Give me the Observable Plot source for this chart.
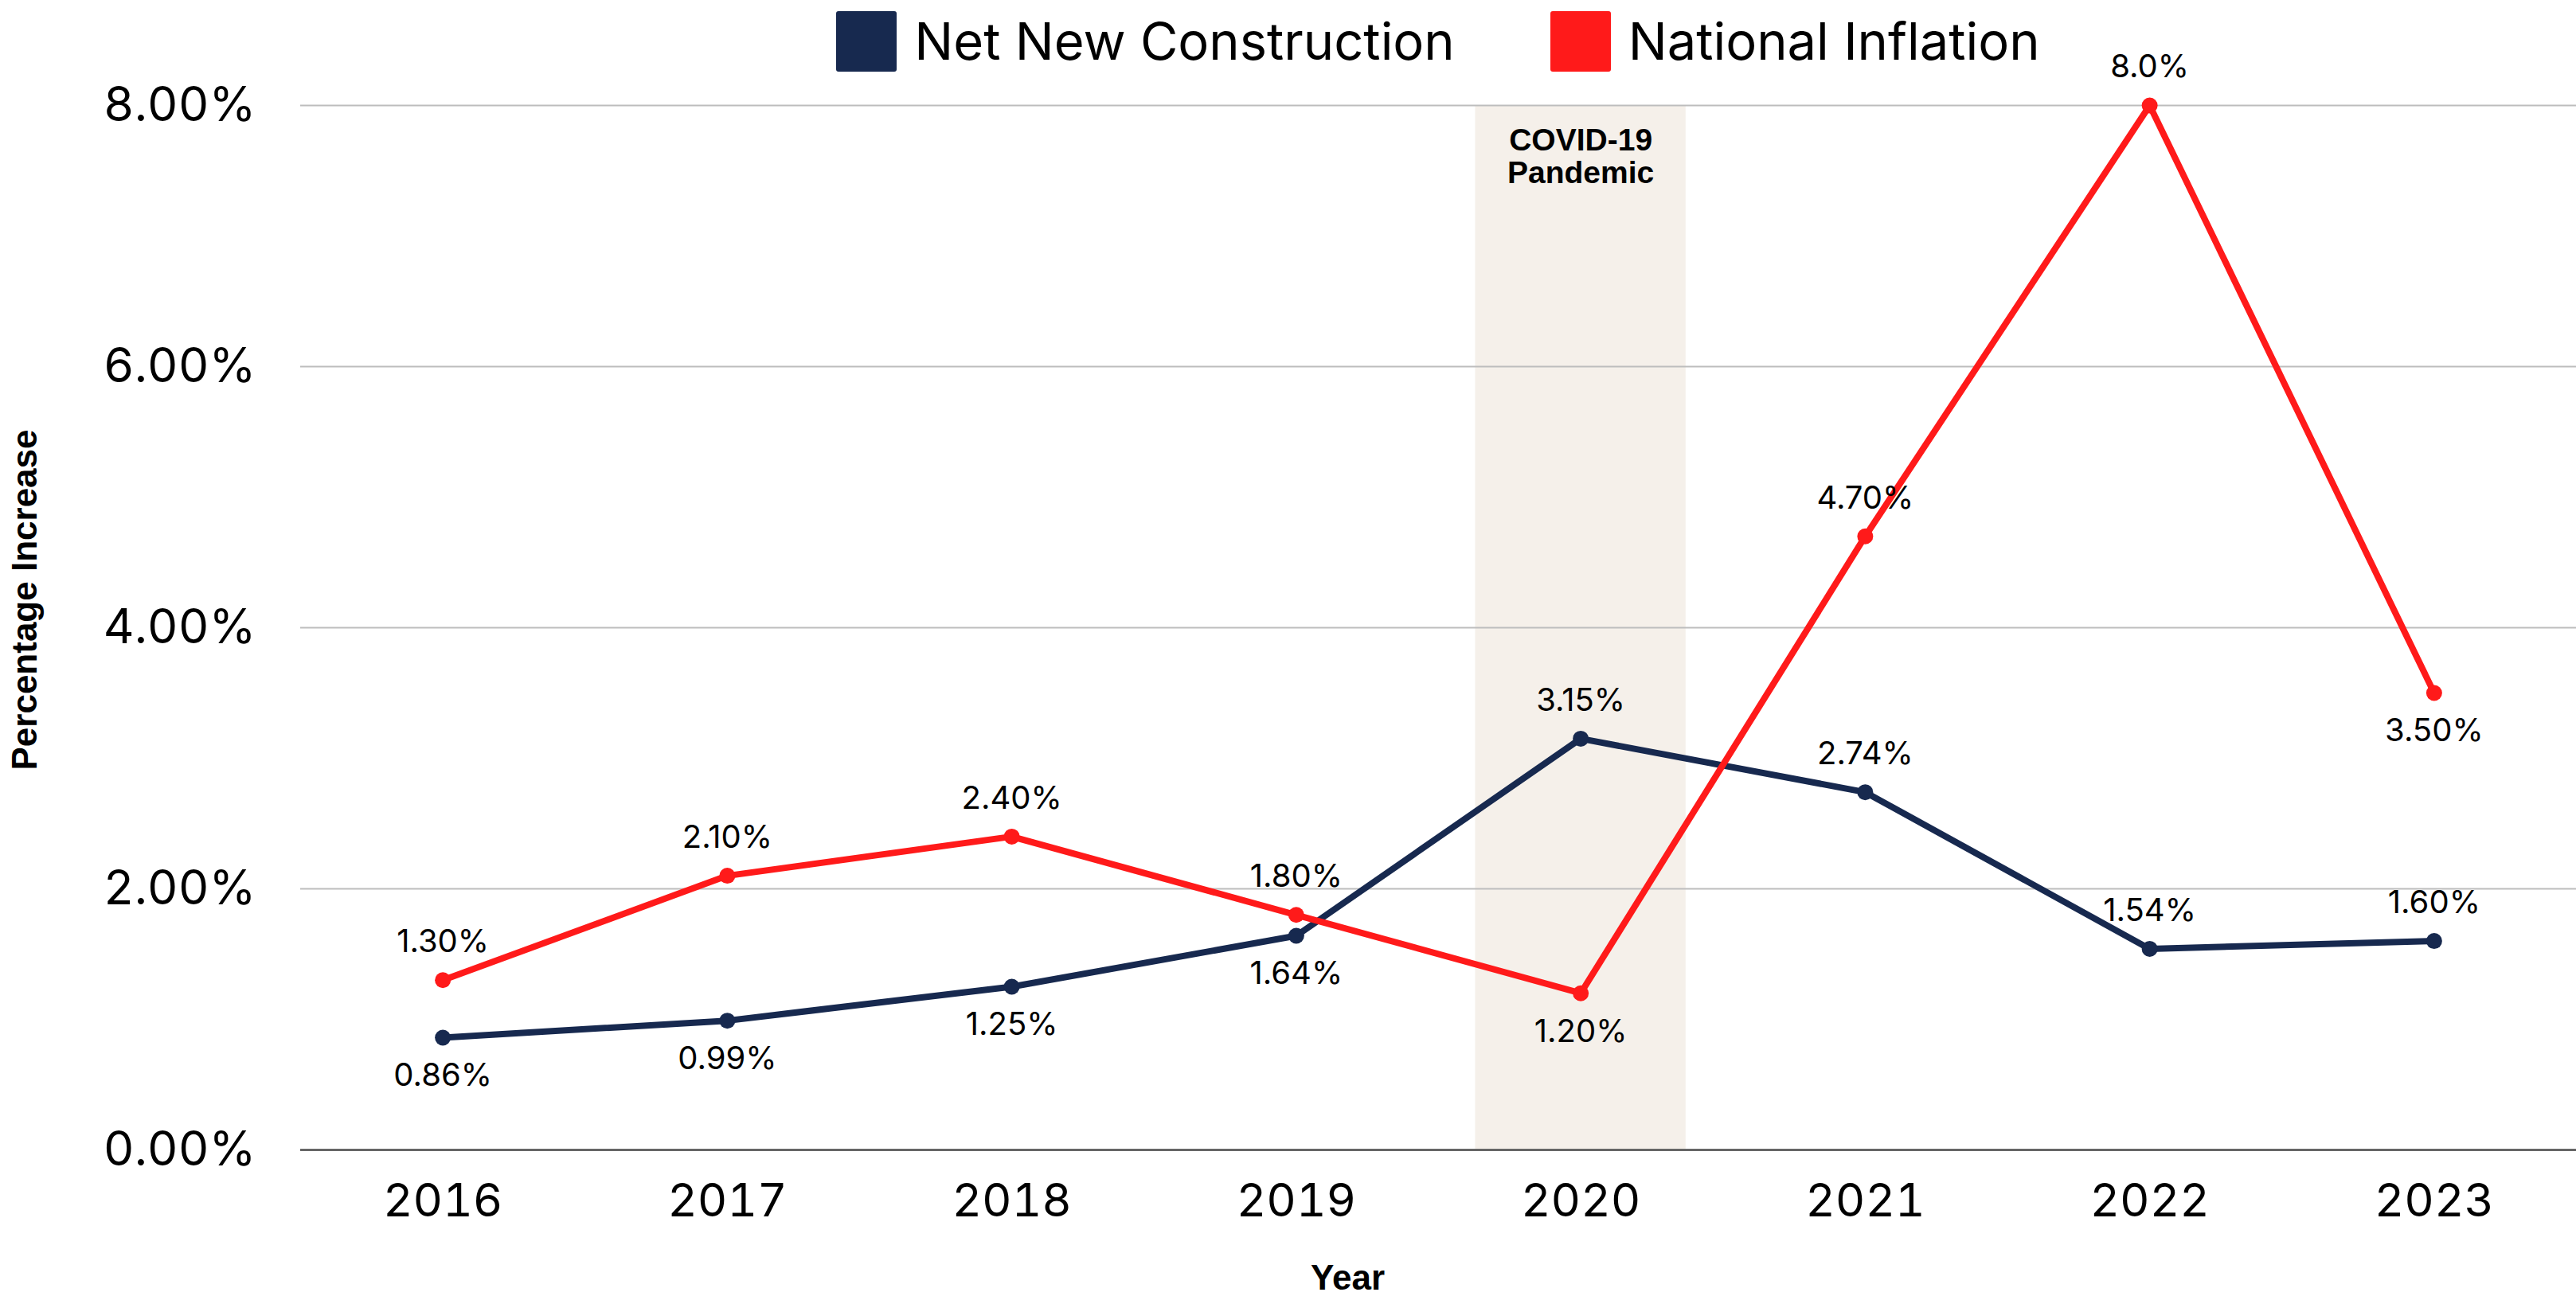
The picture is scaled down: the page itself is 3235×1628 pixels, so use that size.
<!DOCTYPE html>
<html>
<head>
<meta charset="utf-8">
<script src="https://cdn.jsdelivr.net/npm/d3@7"></script>
<script src="https://cdn.jsdelivr.net/npm/@observablehq/plot@0.6"></script>
<style>
  html, body { margin: 0; padding: 0; background: #fff; }
  body { width: 3235px; height: 1628px; overflow: hidden; font-family: Inter, "Noto Sans", sans-serif; }
  #legend { height: 100px; box-sizing: border-box; padding-left: 377px; display: flex; justify-content: center; align-items: flex-start; gap: 120px; }
  .item { display: flex; align-items: center; gap: 22px; margin-top: 14px; }
  .sw { width: 76px; height: 76px; border-radius: 3px; }
  .lab { font-size: 65px; color: #000; line-height: 76px; }
</style>
</head>
<body>
<div id="legend"></div>
<div id="chart"></div>
<script>
// ---- data ----
const years = [2016, 2017, 2018, 2019, 2020, 2021, 2022, 2023];
const netNewConstruction = [0.86, 0.99, 1.25, 1.64, 3.15, 2.74, 1.54, 1.60];
const nationalInflation = [1.30, 2.10, 2.40, 1.80, 1.20, 4.70, 8.0, 3.50];
const constructionLabels = ["0.86%", "0.99%", "1.25%", "1.64%", "3.15%", "2.74%", "1.54%", "1.60%"];
const inflationLabels = ["1.30%", "2.10%", "2.40%", "1.80%", "1.20%", "4.70%", "8.0%", "3.50%"];
const yTicks = [0, 2, 4, 6, 8];
const seriesNames = ["Net New Construction", "National Inflation"];
const covidSpan = {start: 2019.63, end: 2020.37, label: "COVID-19\nPandemic"};

// ---- styling ----
const colors = {"Net New Construction": "#17294f", "National Inflation": "#ff1a1a"};
const constructionSide = [1, 1, 1, 1, -1, -1, -1, -1];   // -1 above, 1 below
const inflationSide = [-1, -1, -1, -1, 1, -1, -1, 1];

const construction = years.map((year, i) => ({year, value: netNewConstruction[i], label: constructionLabels[i], side: constructionSide[i]}));
const inflation = years.map((year, i) => ({year, value: nationalInflation[i], label: inflationLabels[i], side: inflationSide[i]}));

// legend
const legend = document.getElementById("legend");
for (const name of seriesNames) {
  const it = document.createElement("div");
  it.className = "item";
  it.innerHTML = `<div class="sw" style="background:${colors[name]}"></div><div class="lab">${name}</div>`;
  legend.appendChild(it);
}

const labelOffset = 48;
const font = "Inter, 'Noto Sans', sans-serif";
const boldFont = "'Liberation Sans', Arial, sans-serif";

const chart = Plot.plot({
  width: 3235,
  height: 1528,
  marginLeft: 377,
  marginRight: 0,
  marginTop: 32,
  marginBottom: 184,
  style: {fontFamily: font, background: "white", overflow: "visible", color: "#000"},
  x: {domain: [2015.5, 2023.5], label: null},
  y: {domain: [0, 8], label: null},
  marks: [
    Plot.rect([covidSpan], {x1: "start", x2: "end", y1: 0, y2: 8, fill: "#f5f0ea"}),
    Plot.gridY(yTicks.filter(d => d > 0), {stroke: "#bdbdbd", strokeOpacity: 1, strokeWidth: 2}),
    Plot.ruleY([0], {stroke: "#666", strokeWidth: 3}),
    Plot.text([covidSpan], {x: 2020, y: 8, text: "label", dy: 64, lineAnchor: "middle", fontSize: 39, fontWeight: "bold", fontFamily: boldFont, lineHeight: 1.06, fill: "#000"}),
    Plot.axisX({ticks: years, tickFormat: d => String(d), tickSize: 0, tickPadding: 42, fontSize: 58, label: null}),
    Plot.axisY({ticks: yTicks, tickFormat: d => d.toFixed(2) + "%", tickSize: 0, tickPadding: 56, fontSize: 60, label: null}),
    Plot.text(["Year"], {frameAnchor: "bottom", dx: -114, dy: 161, textAnchor: "middle", lineAnchor: "middle", fontSize: 44, fontWeight: "bold", fontFamily: boldFont, fill: "#000"}),
    Plot.text(["Percentage Increase"], {frameAnchor: "left", dx: -346, dy: -35, rotate: -90, textAnchor: "middle", lineAnchor: "middle", fontSize: 44, fontWeight: "bold", fontFamily: boldFont, fill: "#000"}),
    Plot.line(construction, {x: "year", y: "value", stroke: colors[seriesNames[0]], strokeWidth: 8}),
    Plot.line(inflation, {x: "year", y: "value", stroke: colors[seriesNames[1]], strokeWidth: 8}),
    Plot.dot(construction, {x: "year", y: "value", r: 10, fill: colors[seriesNames[0]]}),
    Plot.dot(inflation, {x: "year", y: "value", r: 10, fill: colors[seriesNames[1]]}),
    ...[construction, inflation].flatMap(data => [
      Plot.text(data.filter(d => d.side < 0), {x: "year", y: "value", text: "label", dy: -labelOffset, fontSize: 40, fill: "#000", lineAnchor: "middle"}),
      Plot.text(data.filter(d => d.side > 0), {x: "year", y: "value", text: "label", dy: labelOffset, fontSize: 40, fill: "#000", lineAnchor: "middle"})
    ])
  ]
});
document.getElementById("chart").appendChild(chart);
</script>
</body>
</html>
